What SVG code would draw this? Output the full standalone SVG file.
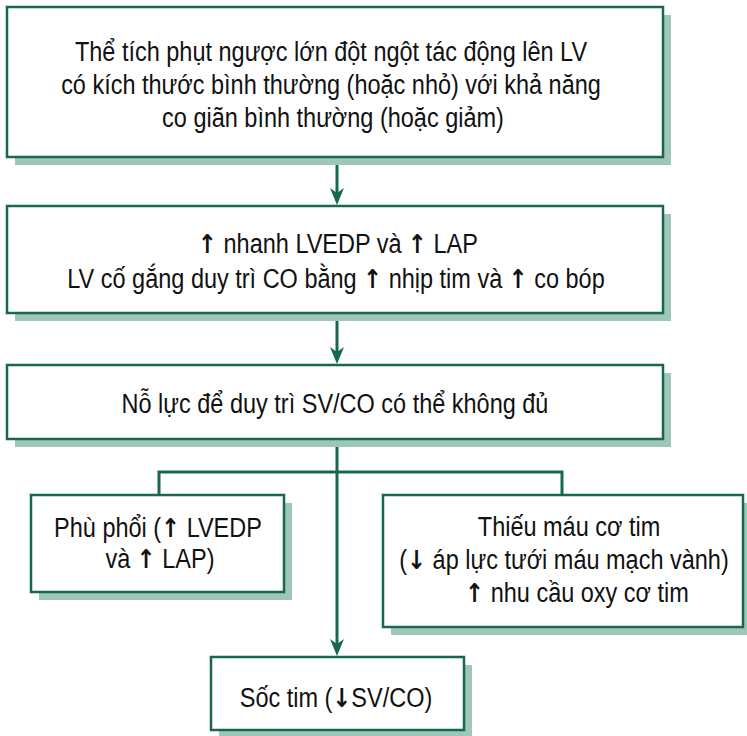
<svg xmlns="http://www.w3.org/2000/svg" width="747" height="736" viewBox="0 0 747 736">
  <style>
    .shadow { fill: #9fc6b8; }
    .box { fill: #ffffff; stroke: #17694c; stroke-width: 2.5; }
    .wire { fill: none; stroke: #17694c; stroke-width: 3; }
    .label { font-family: "Liberation Sans", Arial, sans-serif; font-size: 27px; fill: #111111; text-anchor: middle; }
    .arr { font-family: "DejaVu Sans", sans-serif; font-weight: bold; font-size: 26px; fill: #111111; }
  </style>
  <defs>
    <marker id="head" viewBox="0 0 17 14" markerUnits="userSpaceOnUse" markerWidth="17" markerHeight="14" refX="5" refY="7" orient="auto">
      <path d="M0,0 L17,7 L0,14 L5,7 Z" fill="#17694c"/>
    </marker>
  </defs>

  <!-- connectors -->
  <g id="connectors">
    <line class="wire" x1="337" y1="157" x2="337" y2="193" marker-end="url(#head)"/>
    <line class="wire" x1="337" y1="313" x2="337" y2="352" marker-end="url(#head)"/>
    <line class="wire" x1="337" y1="439" x2="337" y2="644" marker-end="url(#head)"/>
    <polyline class="wire" points="159,495 159,472 562,472 562,495"/>
  </g>

  <!-- acute regurgitation -->
  <g id="n-volume">
    <rect class="shadow" x="15" y="15" width="656" height="150"/>
    <rect class="box" x="7" y="7" width="656" height="150"/>
    <text class="label" transform="translate(331,61) scale(0.87,1)">Thể tích phụt ngược lớn đột ngột tác động lên LV</text>
    <text class="label" transform="translate(331,94) scale(0.87,1)">có kích thước bình thường (hoặc nhỏ) với khả năng</text>
    <text class="label" transform="translate(333,127) scale(0.87,1)">co giãn bình thường (hoặc giảm)</text>
  </g>

  <g id="n-pressure">
    <rect class="shadow" x="15" y="214" width="656" height="107"/>
    <rect class="box" x="7" y="206" width="656" height="107"/>
    <text class="label" transform="translate(338,253) scale(0.87,1)"><tspan class="arr">↑</tspan> nhanh LVEDP và <tspan class="arr">↑</tspan> LAP</text>
    <text class="label" transform="translate(336,288) scale(0.87,1)">LV cố gắng duy trì CO bằng <tspan class="arr">↑</tspan> nhịp tim và <tspan class="arr">↑</tspan> co bóp</text>
  </g>

  <g id="n-effort">
    <rect class="shadow" x="15" y="373" width="656" height="74"/>
    <rect class="box" x="7" y="365" width="656" height="74"/>
    <text class="label" transform="translate(335,413) scale(0.87,1)">Nỗ lực để duy trì SV/CO có thể không đủ</text>
  </g>

  <g id="n-edema">
    <rect class="shadow" x="39" y="503" width="253" height="97"/>
    <rect class="box" x="31" y="495" width="253" height="97"/>
    <text class="label" transform="translate(158,537) scale(0.87,1)">Phù phổi (<tspan class="arr">↑</tspan> LVEDP</text>
    <text class="label" transform="translate(160,568) scale(0.87,1)">và <tspan class="arr">↑</tspan> LAP)</text>
  </g>

  <g id="n-ischemia">
    <rect class="shadow" x="391" y="503" width="360" height="132"/>
    <rect class="box" x="383" y="495" width="360" height="132"/>
    <text class="label" transform="translate(569,536) scale(0.87,1)">Thiếu máu cơ tim</text>
    <text class="label" transform="translate(564,569) scale(0.87,1)">(<tspan class="arr">↓</tspan> áp lực tưới máu mạch vành)</text>
    <text class="label" transform="translate(577,602) scale(0.87,1)"><tspan class="arr">↑</tspan> nhu cầu oxy cơ tim</text>
  </g>

  <g id="n-shock">
    <rect class="shadow" x="219" y="665" width="253" height="73"/>
    <rect class="box" x="211" y="657" width="253" height="73"/>
    <text class="label" transform="translate(336,707) scale(0.87,1)">Sốc tim (<tspan class="arr">↓</tspan>SV/CO)</text>
  </g>
</svg>
